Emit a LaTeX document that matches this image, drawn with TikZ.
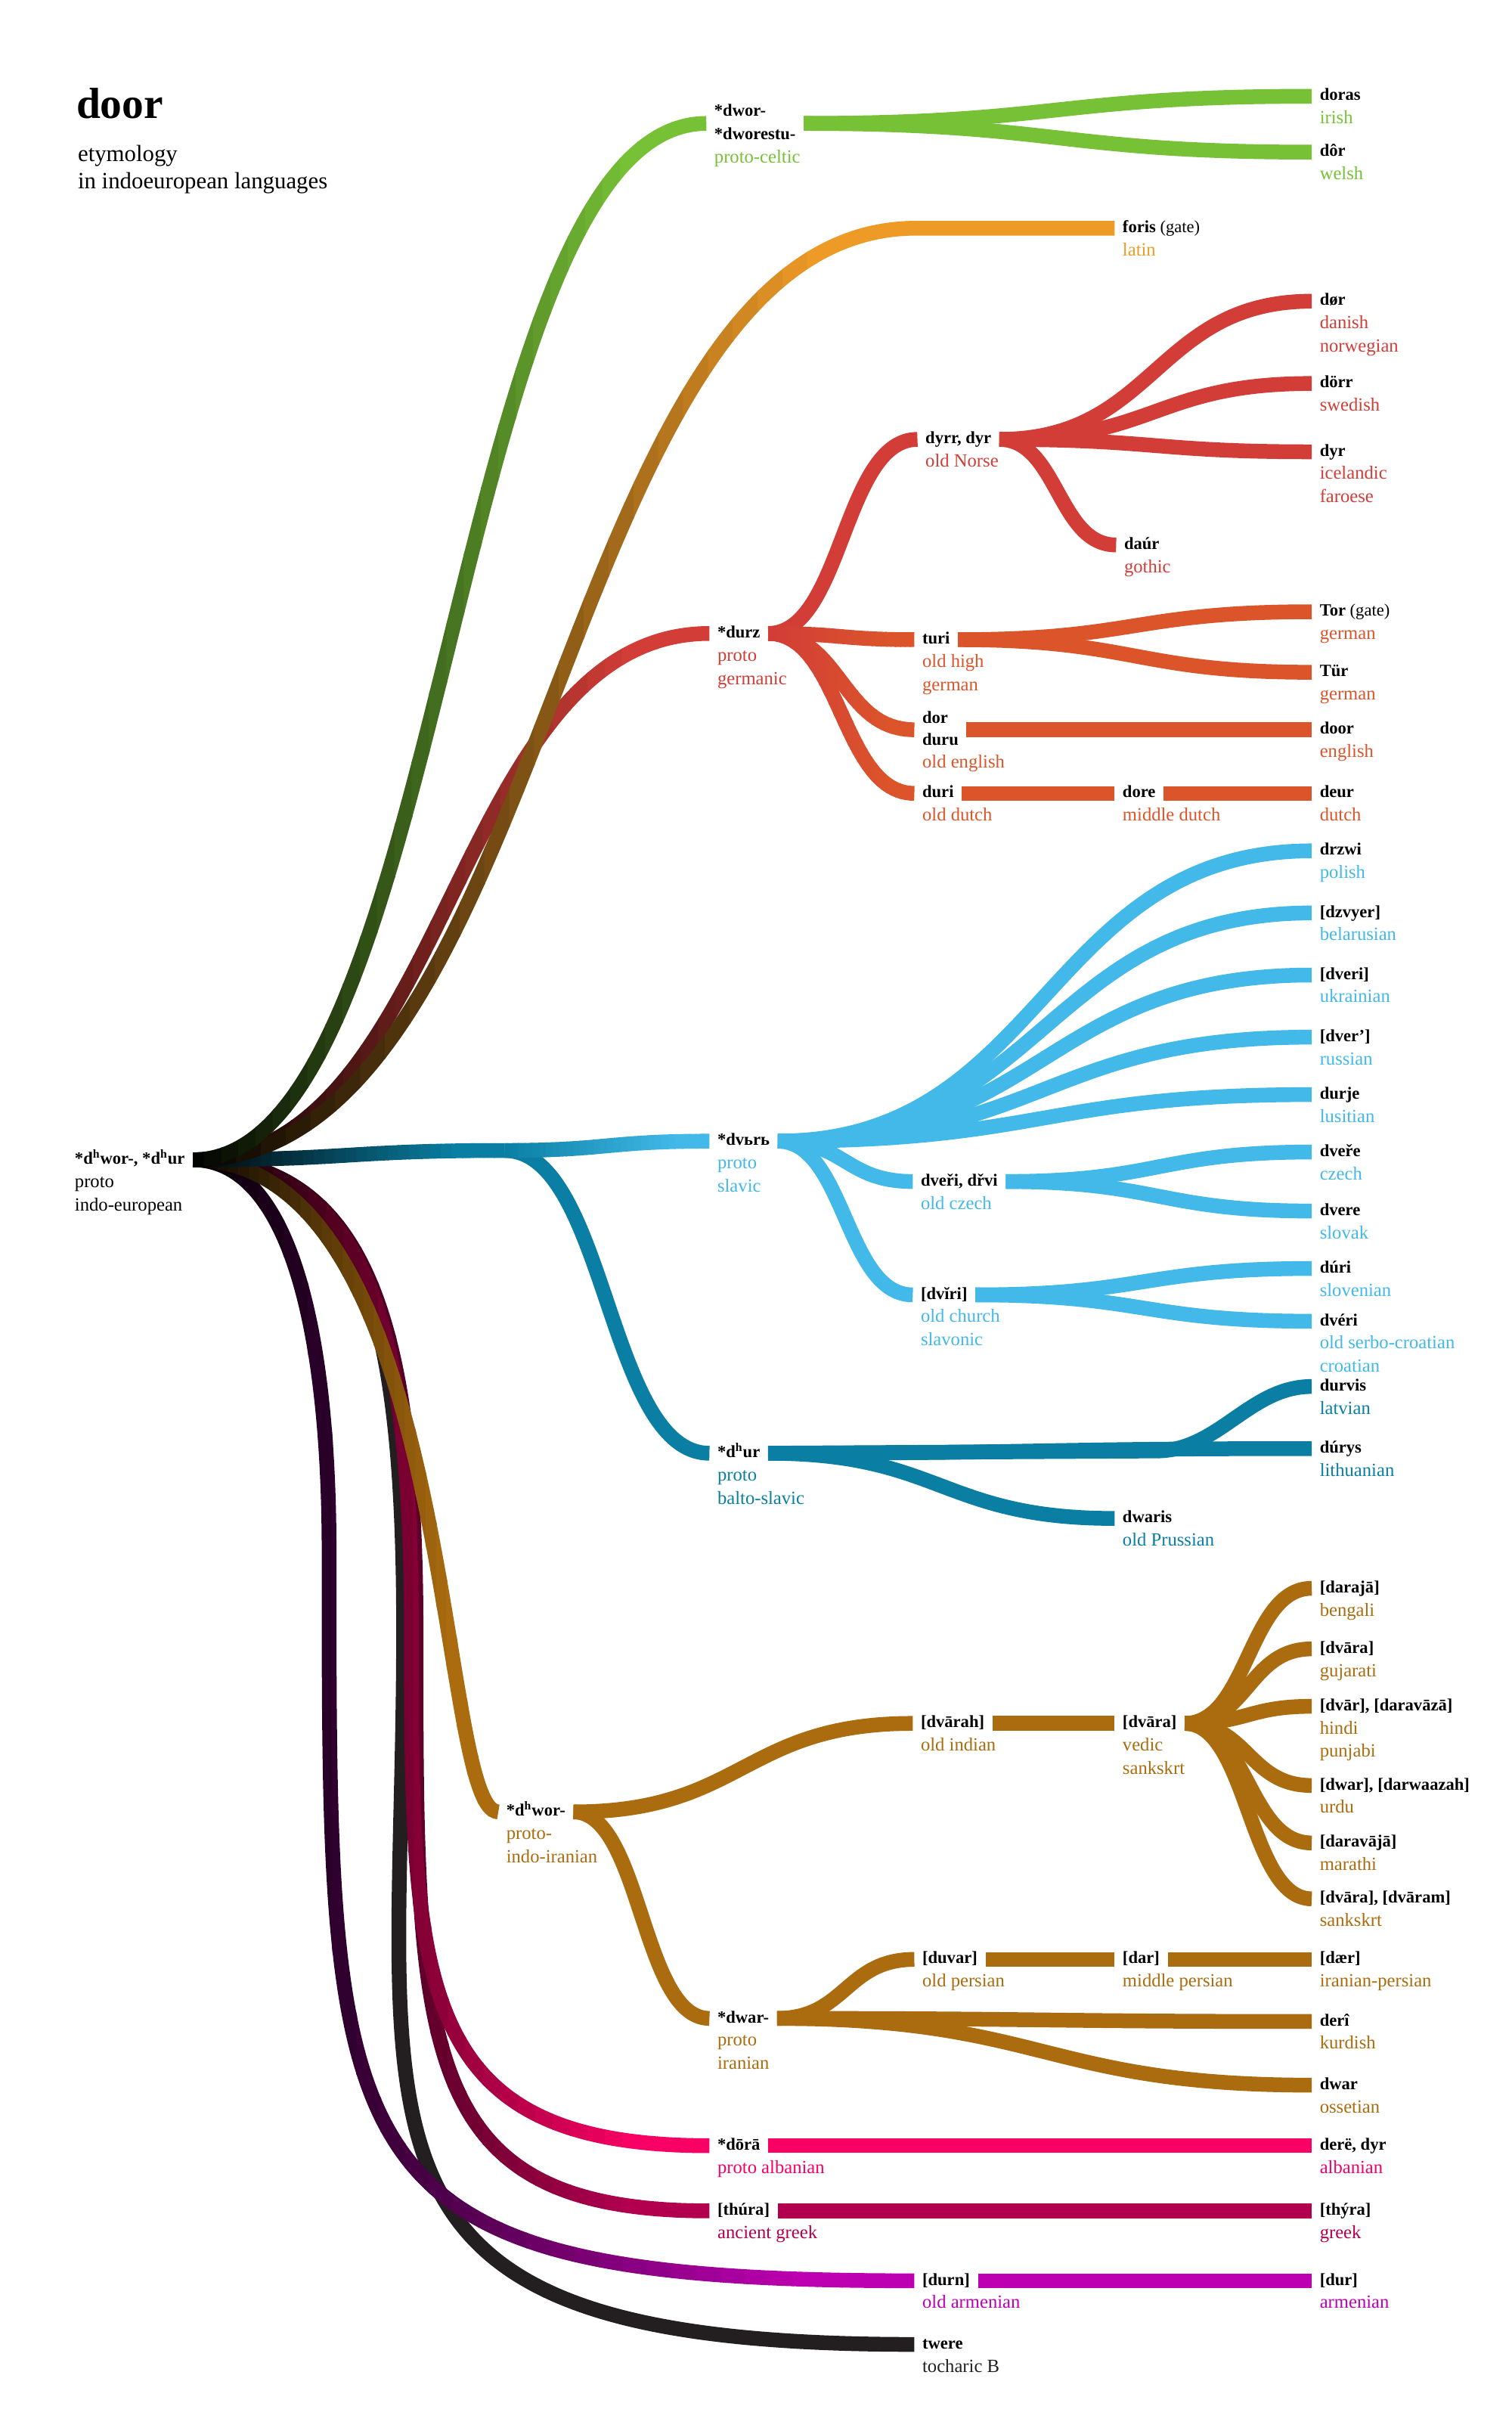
\documentclass[tikz,border=0pt]{standalone}
\usepackage{fontspec}
\setmainfont{Liberation Serif}
\usetikzlibrary{calc}
\definecolor{cgreen}{HTML}{77C136}
\definecolor{corange}{HTML}{EE9A27}
\definecolor{cred}{HTML}{D23D37}
\definecolor{cored}{HTML}{DC552A}
\definecolor{cblue}{HTML}{42B9E9}
\definecolor{cteal}{HTML}{0A7FA3}
\definecolor{cbrown}{HTML}{AB6C0F}
\definecolor{cpink}{HTML}{F90064}
\definecolor{ccrim}{HTML}{B2004F}
\definecolor{cpurp}{HTML}{BE00B3}
\definecolor{cdark}{HTML}{231F20}
\tikzset{
  word/.style={font=\fontsize{11}{13}\selectfont\bfseries, inner sep=0pt, text height=7.5pt, text depth=2pt, anchor=west},
  lang/.style={font=\fontsize{12}{14}\selectfont, inner sep=0pt, anchor=base west},
  lnk/.style={line width=9.5pt},
  ln/.style={to path={let \p1=(\tikztostart), \p2=(\tikztotarget) in .. controls ({0.5*\x1+0.5*\x2},\y1) and ({0.5*\x1+0.5*\x2},\y2) .. (\p2)}}
}
\newcommand\wrd[5]{%
  \node[word] (#1) at (#2) {#3};
  \coordinate (#1-i) at ([xshift=-5pt]#1.west);
  \coordinate (#1-o) at ([xshift=5pt]#1.east);
  \foreach \lname [count=\cnt] in {#5} {\node[lang,text=#4] at ([yshift=-\cnt*15pt]#1.base west) {\lname};}
}
% gradient along x: #1 start colour, #2 end colour, #3 x start, #4 x end, #5 path
\newcommand\xgrad[5]{%
  \foreach \s in {0,...,29}{%
    \pgfmathsetmacro\xa{#3+(#4-#3)*\s/30-(\s==0)*100}%
    \pgfmathsetmacro\xb{#3+(#4-#3)*(\s+1)/30+0.6+(\s==29)*1000}%
    \pgfmathsetmacro\pc{min(100,100*(\s+0.5)/(30*0.85))}%
    \begin{scope}
      \clip (\xa,-20) rectangle (\xb,1600);
      \draw[lnk,#2!\pc!#1] #5;
    \end{scope}
  }%
}
\begin{document}
\begin{tikzpicture}[x=1pt,y=-1pt]
\fill[white] (0,0) rectangle (974,1567.7);
\useasboundingbox (0,0) rectangle (974,1567.7);

% title
\node[anchor=base west, font=\fontsize{28}{30}\selectfont\bfseries, inner sep=0pt] (title) at (49,76) {door};
\node[anchor=base west, font=\fontsize{15}{17}\selectfont, inner sep=0pt] (sub1) at (50,104) {etymology};
\node[anchor=base west, font=\fontsize{15}{17}\selectfont, inner sep=0pt] (sub2) at (50,121.5) {in indoeuropean languages};

% root
\wrd{pie}{48,747}{*d\textsuperscript{h}wor-, *d\textsuperscript{h}ur}{black}{proto,indo-european}

% celtic
\node[word] (celt1) at (460,72) {*dwor-};
\node[word] (celt2) at (460,87) {*dworestu-};
\node[lang,text=cgreen] (celtl) at ([yshift=-15pt]celt2.base west) {proto-celtic};
\coordinate (celt-i) at ($(celt1.west)!0.5!(celt2.west)+(-5pt,0)$);
\coordinate (celt-o) at ($(celt2.east |- celt-i)+(5pt,0)$);
\wrd{doras}{850,62}{doras}{cgreen}{irish}
\wrd{dorw}{850,98}{dôr}{cgreen}{welsh}

% latin
\wrd{foris}{723,147}{foris {\mdseries(gate)}}{corange}{latin}

% germanic
\wrd{durz}{462,408}{*durz}{cred}{proto,germanic}
\wrd{dyrr}{596,283}{dyrr, dyr}{cred}{old Norse}
\wrd{dor}{850,194}{dør}{cred}{danish,norwegian}
\wrd{dorr}{850,247}{dörr}{cred}{swedish}
\wrd{dyr}{850,291}{dyr}{cred}{icelandic,faroese}
\wrd{daur}{724,351}{daúr}{cred}{gothic}
\wrd{turi}{594,412}{turi}{cored}{old high,german}
\wrd{tor}{850,394}{Tor {\mdseries(gate)}}{cored}{german}
\wrd{tur}{850,433}{Tür}{cored}{german}
\node[word] (eng1) at (594,463) {dor};
\node[word] (eng2) at (594,477) {duru};
\node[lang,text=cored] (engl) at ([yshift=-15pt]eng2.base west) {old english};
\coordinate (eng-i) at ($(eng1.west)!0.5!(eng2.west)+(-5pt,0)$);
\coordinate (eng-o) at ($(eng2.east |- eng-i)+(5pt,0)$);
\wrd{door}{850,470}{door}{cored}{english}
\wrd{duri}{594,511}{duri}{cored}{old dutch}
\wrd{dore}{723,511}{dore}{cored}{middle dutch}
\wrd{deur}{850,511}{deur}{cored}{dutch}

% slavic
\wrd{dvrs}{462,735}{*dvьrь}{cblue}{proto,slavic}
\wrd{drzwi}{850,548}{drzwi}{cblue}{polish}
\wrd{dzvyer}{850,588}{[dzvyer]}{cblue}{belarusian}
\wrd{dveri}{850,628}{[dveri]}{cblue}{ukrainian}
\wrd{dver}{850,668}{[dver’]}{cblue}{russian}
\wrd{durje}{850,705}{durje}{cblue}{lusitian}
\wrd{dverio}{593,761}{dveři, dřvi}{cblue}{old czech}
\wrd{dvcz}{850,742}{dveře}{cblue}{czech}
\wrd{dvsk}{850,780}{dvere}{cblue}{slovak}
\wrd{dviri}{593,834}{[dvĭri]}{cblue}{old church,slavonic}
\wrd{dursl}{850,817}{dúri}{cblue}{slovenian}
\wrd{dvhr}{850,851}{dvéri}{cblue}{old serbo-croatian,croatian}

% baltic
\wrd{dhur}{462,936}{*d\textsuperscript{h}ur}{cteal}{proto,balto-slavic}
\wrd{durvis}{850,893}{durvis}{cteal}{latvian}
\wrd{durys}{850,933}{dúrys}{cteal}{lithuanian}
\wrd{dwaris}{723,978}{dwaris}{cteal}{old Prussian}

% indo-iranian
\wrd{dhwor}{326,1167}{*d\textsuperscript{h}wor-}{cbrown}{proto-,indo-iranian}
\wrd{dvarah}{593,1110}{[dvārah]}{cbrown}{old indian}
\wrd{dvara}{723,1110}{[dvāra]}{cbrown}{vedic,sankskrt}
\wrd{daraja}{850,1023}{[darajā]}{cbrown}{bengali}
\wrd{dvarag}{850,1062}{[dvāra]}{cbrown}{gujarati}
\wrd{dvar}{850,1099}{[dvār], [daravāzā]}{cbrown}{hindi,punjabi}
\wrd{dwar}{850,1150}{[dwar], [darwaazah]}{cbrown}{urdu}
\wrd{daravaja}{850,1187}{[daravājā]}{cbrown}{marathi}
\wrd{dvaram}{850,1223}{[dvāra], [dvāram]}{cbrown}{sankskrt}
\wrd{dwarp}{462,1300}{*dwar-}{cbrown}{proto,iranian}
\wrd{duvar}{594,1262}{[duvar]}{cbrown}{old persian}
\wrd{dar}{723,1262}{[dar]}{cbrown}{middle persian}
\wrd{daer}{850,1262}{[dær]}{cbrown}{iranian-persian}
\wrd{deri}{850,1302}{derî}{cbrown}{kurdish}
\wrd{dwaro}{850,1343}{dwar}{cbrown}{ossetian}

% albanian, greek, armenian, tocharian
\wrd{dora}{462,1382}{*dōrā}{cpink}{proto albanian}
\wrd{dere}{850,1382}{derë, dyr}{cpink}{albanian}
\wrd{thura}{462,1424}{[thúra]}{ccrim}{ancient greek}
\wrd{thyra}{850,1424}{[thýra]}{ccrim}{greek}
\wrd{durn}{594,1469}{[durn]}{cpurp}{old armenian}
\wrd{dur}{850,1469}{[dur]}{cpurp}{armenian}
\wrd{twere}{594,1510}{twere}{cdark}{tocharic B}

% ---- connectors from the root
\coordinate (jbs) at (325,741);
\coordinate (latc) at (590,147);
\draw[lnk,cdark] (pie-o) .. controls +(110,0) and +(0,-200) .. (260,1050) .. controls +(0,330) and +(-387,0) .. (twere-i);
\xgrad{black}{cpurp}{120}{589}{(pie-o) .. controls +(60,0) and +(0,-150) .. (212,1000) .. controls +(0,400) and +(-380,0) .. (durn-i)}
\xgrad{black}{ccrim}{120}{457}{(pie-o) .. controls +(110,0) and +(0,-200) .. (268,1050) .. controls +(0,270) and +(-190,0) .. (thura-i)}
\xgrad{black}{cpink}{120}{457}{(pie-o) .. controls +(110,0) and +(0,-200) .. (265,1050) .. controls +(0,230) and +(-190,0) .. (dora-i)}
\xgrad{black}{cbrown}{120}{321}{(pie-o) .. controls +(170,0) and +(-40,0) .. (dhwor-i)}
\xgrad{black}{cteal}{120}{325}{(pie-o) to[ln] (jbs)}
\draw[lnk,cteal] (jbs) to[ln] (dhur-i);
\xgrad{cteal}{cblue}{325}{457}{(jbs) to[ln] (dvrs-i)}
\xgrad{black}{cred}{120}{457}{(pie-o) to[ln] (durz-i)}
\xgrad{black}{corange}{120}{600}{(pie-o) to[ln] (latc) -- (foris-i)}
\xgrad{black}{cgreen}{120}{455}{(pie-o) to[ln] (celt-i)}

% celtic
\draw[lnk,cgreen] (celt-o) to[ln] (doras-i);
\draw[lnk,cgreen] (celt-o) to[ln] (dorw-i);

% germanic
\draw[lnk,cred] (durz-o) to[ln] (dyrr-i);
\xgrad{cred}{cored}{497}{589}{(durz-o) to[ln] (duri-i)}
\xgrad{cred}{cored}{497}{589}{(durz-o) to[ln] (eng-i)}
\xgrad{cred}{cored}{497}{589}{(durz-o) to[ln] (turi-i)}
\draw[lnk,cred] (dyrr-o) to[ln] (dor-i);
\draw[lnk,cred] (dyrr-o) to[ln] (dorr-i);
\draw[lnk,cred] (dyrr-o) to[ln] (dyr-i);
\draw[lnk,cred] (dyrr-o) to[ln] (daur-i);
\draw[lnk,cored] (turi-o) to[ln] (tor-i);
\draw[lnk,cored] (turi-o) to[ln] (tur-i);
\draw[lnk,cored] (eng-o) to[ln] (door-i);
\draw[lnk,cored] (duri-o) to[ln] (dore-i);
\draw[lnk,cored] (dore-o) to[ln] (deur-i);

% slavic
\foreach \t in {drzwi,dzvyer,dveri,dver,durje,dverio,dviri}
  \draw[lnk,cblue] (dvrs-o) to[ln] (\t-i);
\draw[lnk,cblue] (dverio-o) to[ln] (dvcz-i);
\draw[lnk,cblue] (dverio-o) to[ln] (dvsk-i);
\draw[lnk,cblue] (dviri-o) to[ln] (dursl-i);
\draw[lnk,cblue] (dviri-o) to[ln] (dvhr-i);

% baltic
\draw[lnk,cteal] (dhur-o) to[ln] (durys-i);
\draw[lnk,cteal] (dhur-o) -- (745,934.5) .. controls +(40,0) and +(-40,0) .. (durvis-i);
\draw[lnk,cteal] (dhur-o) to[ln] (dwaris-i);

% indo-iranian
\draw[lnk,cbrown] (dhwor-o) to[ln] (dvarah-i);
\draw[lnk,cbrown] (dhwor-o) to[ln] (dwarp-i);
\draw[lnk,cbrown] (dvarah-o) to[ln] (dvara-i);
\foreach \t in {daraja,dvarag,dvar,dwar,daravaja,dvaram}
  \draw[lnk,cbrown] (dvara-o) to[ln] (\t-i);
\draw[lnk,cbrown] (dwarp-o) to[ln] (duvar-i);
\draw[lnk,cbrown] (dwarp-o) to[ln] (deri-i);
\draw[lnk,cbrown] (dwarp-o) to[ln] (dwaro-i);
\draw[lnk,cbrown] (duvar-o) to[ln] (dar-i);
\draw[lnk,cbrown] (dar-o) to[ln] (daer-i);

% others
\draw[lnk,cpink] (dora-o) to[ln] (dere-i);
\draw[lnk,ccrim] (thura-o) to[ln] (thyra-i);
\draw[lnk,cpurp] (durn-o) to[ln] (dur-i);
\end{tikzpicture}
\end{document}
